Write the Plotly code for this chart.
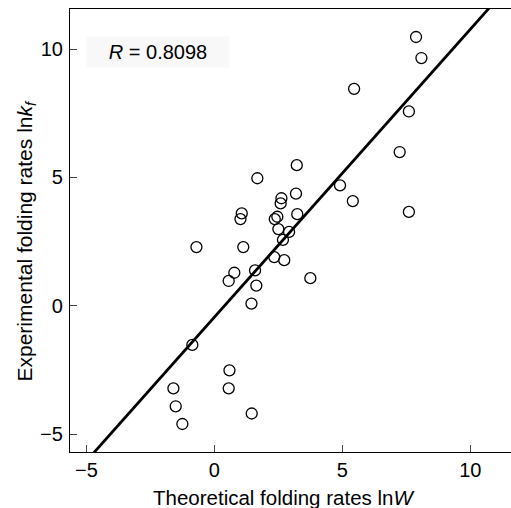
import plotly.graph_objects as go

# Theoretical (lnW) and experimental (lnkf) folding rates
theoretical_lnW = [7.60, 7.24, 3.22, 1.68, 4.91, 5.41, 7.60, 3.19, 2.62, 2.59,
                   1.07, 1.02, 2.46, 2.36, 3.24, 2.50, 2.92, 2.68, -0.70, 1.13,
                   2.34, 2.73, 0.78, 0.56, 1.59, 1.64, 3.75, 1.45, -0.86, 0.59,
                   0.56, -1.60, -1.51, -1.25, 1.46, 7.88, 8.09, 5.46]
experimental_lnkf = [7.57, 5.99, 5.48, 4.97, 4.69, 4.08, 3.66, 4.37, 4.19, 3.99,
                     3.60, 3.38, 3.47, 3.38, 3.57, 2.99, 2.88, 2.57, 2.29, 2.29,
                     1.90, 1.78, 1.29, 0.97, 1.38, 0.79, 1.08, 0.09, -1.52, -2.51,
                     -3.21, -3.21, -3.91, -4.60, -4.19, 10.47, 9.65, 8.45]

# Fitted regression line parameters
fit_slope = 1.121
fit_intercept = -0.44
fit_x = [-7, 13]
fit_y = [fit_slope * v + fit_intercept for v in fit_x]

x_ticks = [-5, 0, 5, 10]
y_ticks = [-5, 0, 5, 10]
r_label = "<i>R</i> = 0.8098"

FONT = "Liberation Sans, Arial, sans-serif"

fig = go.Figure()
fig.add_trace(go.Scatter(
    x=fit_x, y=fit_y, mode="lines",
    line=dict(color="black", width=2.8), hoverinfo="skip", showlegend=False))
fig.add_trace(go.Scatter(
    x=theoretical_lnW, y=experimental_lnkf, mode="markers",
    marker=dict(symbol="circle-open", size=11, color="black",
                line=dict(color="black", width=1.3)),
    showlegend=False))

fig.update_layout(
    width=511, height=508,
    margin=dict(l=70, r=0, t=9, b=56),
    plot_bgcolor="white", paper_bgcolor="white",
    font=dict(family=FONT, size=20, color="black"),
    xaxis=dict(range=[-5.64, 11.59], tickvals=x_ticks, ticks="inside", ticklen=7,
               tickwidth=1, showgrid=False, zeroline=False, showline=True,
               linecolor="black", linewidth=1.2, mirror=True,
               tickfont=dict(size=20)),
    yaxis=dict(range=[-5.69, 11.56], tickvals=y_ticks, ticks="inside", ticklen=7,
               tickwidth=1, showgrid=False, zeroline=False, showline=True,
               linecolor="black", linewidth=1.2,
               ticklabelstandoff=2, tickfont=dict(size=20)),
    annotations=[
        dict(text=r_label, x=-2.2, y=9.9, xref="x", yref="y", showarrow=False,
             width=140, height=28, bgcolor="#f8f8f8", font=dict(size=20)),
        dict(text="Theoretical folding rates ln<i>W</i>", x=(283.5 - 70) / 441,
             y=0, xref="paper", yref="paper", yanchor="top", yshift=-32,
             showarrow=False, font=dict(size=20.5)),
        dict(text="Experimental folding rates ln<i>k<sub>f</sub></i>", x=0,
             xshift=-45, xanchor="center", yanchor="middle",
             y=(452 - 241.5) / 443, xref="paper", yref="paper",
             textangle=-90, showarrow=False, font=dict(size=21)),
    ],
)

fig.write_html("out.html",
               config={"displayModeBar": False},
               post_script="document.body.style.margin='0';"
                           "document.body.style.overflow='hidden';")
